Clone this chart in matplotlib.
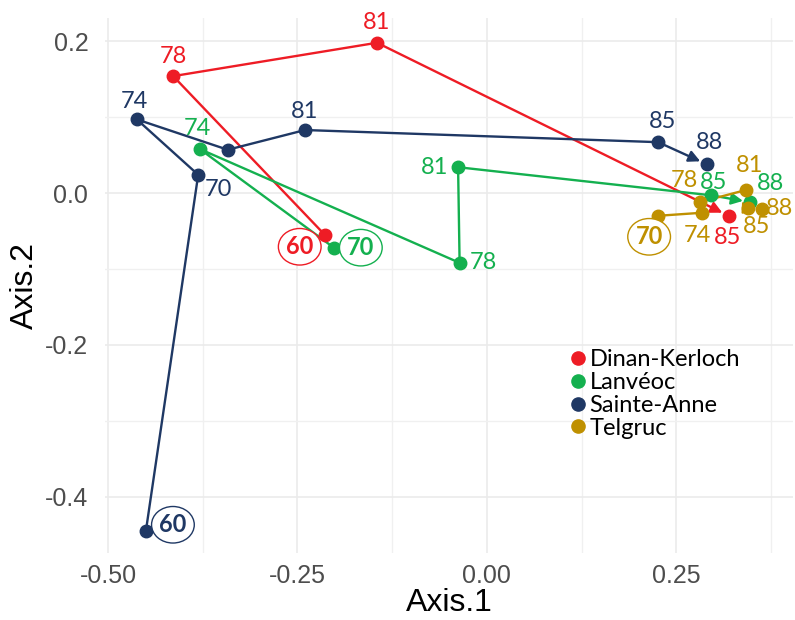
import matplotlib
matplotlib.use("Agg")
import matplotlib.pyplot as plt
from matplotlib.lines import Line2D
from matplotlib.ticker import FixedLocator

plt.rcParams['axes.unicode_minus'] = False

# data
dk_years = ["60", "78", "81", "85"]
dk_x = [-0.214, -0.414, -0.145, 0.319]
dk_y = [-0.055, 0.154, 0.198, -0.030]

la_years = ["70", "74", "78", "81", "85", "88"]
la_x = [-0.202, -0.379, -0.036, -0.038, 0.296, 0.347]
la_y = [-0.072, 0.058, -0.092, 0.034, -0.003, -0.012]

sa_years = ["60", "70", "74", "78", "81", "85", "88"]
sa_x = [-0.450, -0.381, -0.462, -0.342, -0.240, 0.226, 0.290]
sa_y = [-0.445, 0.024, 0.097, 0.057, 0.083, 0.067, 0.038]

te_years = ["70", "74", "78", "81", "85", "88"]
te_x = [0.226, 0.284, 0.281, 0.342, 0.345, 0.363]
te_y = [-0.030, -0.026, -0.012, 0.004, -0.020, -0.021]

sites = ["Dinan-Kerloch", "Lanvéoc", "Sainte-Anne", "Telgruc"]
colors = ["#EE1C25", "#14B04F", "#1F3864", "#BF9000"]

# label offsets (pixels), first label of each series is the circled one
offsets = [
    [(-25, -12), (0, 20), (0, 20), (-1, -22)],
    [(27, 0), (-2, 20), (24, 0), (-24, 0), (2, 13), (21, 19)],
    [(27, 6), (20, -15), (-2, 18), None, (0, 19), (4, 21), (3, 22)],
    [(-9, -21), (-5, -23), (-15, 22), (4, 24), (8, -18), (18, 0)],
]

series = [(dk_x, dk_y, dk_years), (la_x, la_y, la_years),
          (sa_x, sa_y, sa_years), (te_x, te_y, te_years)]

fig = plt.figure(figsize=(7.95, 6.2), dpi=100)
ax = fig.add_axes([105/795, 67/620, 688/795, 535/620])

lab_font = "Lato"

for (xs, ys, yrs), col, offs in zip(series, colors, offsets):
    # path without the last segment, which gets an arrow
    ax.plot(xs[:-1], ys[:-1], color=col, lw=1.7, zorder=3)
    ax.plot(xs, ys, 'o', color=col, ms=9, zorder=4)
    ax.annotate('', xy=(xs[-1], ys[-1]), xytext=(xs[-2], ys[-2]),
                arrowprops=dict(arrowstyle='-|>', color=col, lw=1.7,
                                shrinkA=0, shrinkB=5, mutation_scale=17),
                zorder=3)
    for i, (x, y, t) in enumerate(zip(xs, ys, yrs)):
        off = offs[i]
        if off is None:
            continue
        if i == 0:
            ax.annotate(t, (x, y), xytext=off, textcoords='offset pixels',
                        ha='center', va='center', fontsize=17, fontweight='bold',
                        color=col, family=lab_font, zorder=5,
                        bbox=dict(boxstyle='ellipse,pad=0.06', fc='white',
                                  ec=col, lw=1.0))
        else:
            ax.annotate(t, (x, y), xytext=off, textcoords='offset pixels',
                        ha='center', va='center', fontsize=17,
                        color=col, family=lab_font, zorder=5)

ax.set_xlim(-0.504, 0.404)
ax.set_ylim(-0.4743, 0.2306)

ax.set_xticks([-0.5, -0.25, 0.0, 0.25])
ax.set_xticklabels(["-0.50", "-0.25", "0.00", "0.25"])
ax.set_yticks([-0.4, -0.2, 0.0, 0.2])
ax.set_yticklabels(["-0.4", "-0.2", "0.0", "0.2"])
ax.xaxis.set_minor_locator(FixedLocator([-0.375, -0.125, 0.125, 0.375]))
ax.yaxis.set_minor_locator(FixedLocator([-0.3, -0.1, 0.1]))

ax.grid(True, which='major', color='#EBEBEB', lw=1.2)
ax.grid(True, which='minor', color='#F0F0F0', lw=1.0)
ax.set_axisbelow(True)
for s in ax.spines.values():
    s.set_visible(False)
ax.tick_params(which='both', length=0)
ax.tick_params(axis='x', pad=8, labelsize=18, labelcolor='#4D4D4D')
ax.tick_params(axis='y', pad=12, labelsize=18, labelcolor='#4D4D4D')
for lab in ax.get_xticklabels() + ax.get_yticklabels():
    lab.set_family("Liberation Sans")

ax.set_xlabel("Axis.1", fontsize=23, family="Liberation Sans", labelpad=0)
ax.set_ylabel("Axis.2", fontsize=23, family="Liberation Sans", labelpad=4)

handles = [Line2D([], [], ls='none', marker='o', ms=9.5, color=c) for c in colors]
leg = ax.legend(handles, sites, loc='upper left',
                bbox_to_anchor=(572/795, 1 - 349/620), bbox_transform=fig.transFigure,
                frameon=False, handlelength=0.55, handletextpad=0.2,
                labelspacing=0.08, borderpad=0, borderaxespad=0,
                prop={'family': lab_font, 'size': 17})

fig.savefig("out.png", dpi=100)
